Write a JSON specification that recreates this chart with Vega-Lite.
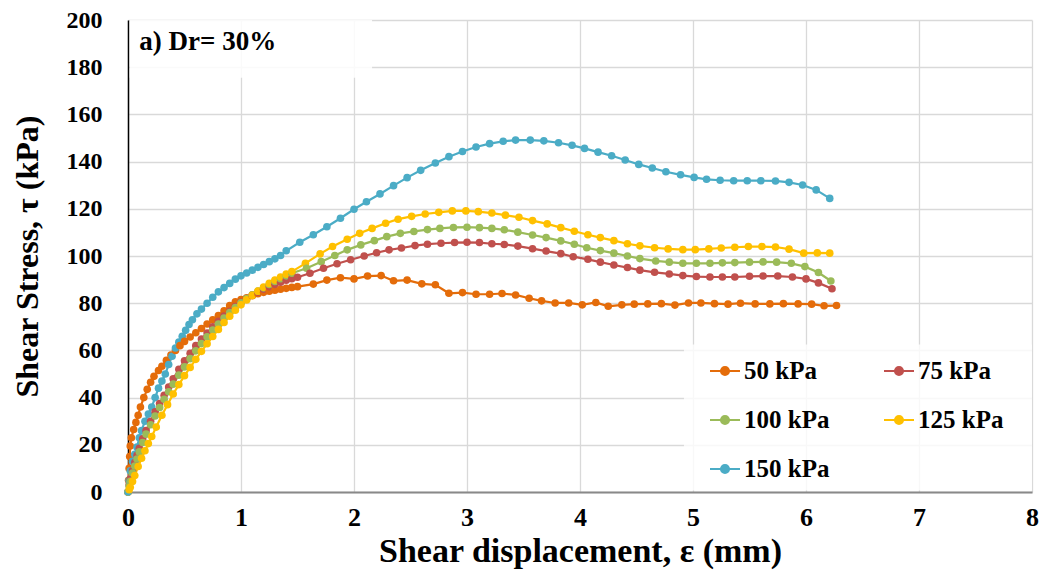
{
"$schema": "https://vega.github.io/schema/vega-lite/v6.json",
"width": 904, "height": 472,
"autosize": {"type": "none"},
"padding": {"left": 128, "top": 20, "right": 19, "bottom": 84},
"background": "white",
"config": {
  "view": {"stroke": null},
  "axis": {"grid": true, "gridColor": "#d9d9d9", "gridWidth": 1.3, "ticks": false, "labelFlush": false, "labelFont": "Liberation Serif", "labelFontWeight": "bold", "labelColor": "#000", "titleFont": "Liberation Serif", "titleFontWeight": "bold", "titleColor": "#000"}
},
"layer": [
  {
    "data": {"values": [{}]},
    "mark": {"type": "rect", "fill": "white", "opacity": 0.85},
    "encoding": {"x": {"datum": 0.015, "type": "quantitative", "scale": {"domain": [0, 8], "nice": false}}, "x2": {"datum": 2.16}, "y": {"datum": 175.5, "type": "quantitative", "scale": {"domain": [0, 200], "nice": false}}, "y2": {"datum": 200}}
  },
  {
    "data": {"values": [{}]},
    "mark": {"type": "rect", "fill": "white", "opacity": 0.8},
    "encoding": {"x": {"datum": 4.92, "type": "quantitative"}, "x2": {"datum": 8}, "y": {"datum": 0.6, "type": "quantitative"}, "y2": {"datum": 62.5}}
  },
  {
    "data": {"values": [
{"p":"50 kPa","x":0,"y":0},{"p":"50 kPa","x":0.005,"y":5},{"p":"50 kPa","x":0.01,"y":10},{"p":"50 kPa","x":0.015,"y":15},{"p":"50 kPa","x":0.02,"y":19.5},{"p":"50 kPa","x":0.03,"y":23},{"p":"50 kPa","x":0.05,"y":26.5},{"p":"50 kPa","x":0.07,"y":29.5},{"p":"50 kPa","x":0.09,"y":32.5},{"p":"50 kPa","x":0.11,"y":36},{"p":"50 kPa","x":0.14,"y":40},{"p":"50 kPa","x":0.17,"y":43.5},{"p":"50 kPa","x":0.2,"y":46.5},{"p":"50 kPa","x":0.23,"y":49},{"p":"50 kPa","x":0.27,"y":51.5},{"p":"50 kPa","x":0.3,"y":53.3},{"p":"50 kPa","x":0.34,"y":55.8},{"p":"50 kPa","x":0.38,"y":58},{"p":"50 kPa","x":0.42,"y":60},{"p":"50 kPa","x":0.46,"y":62},{"p":"50 kPa","x":0.5,"y":63.8},{"p":"50 kPa","x":0.55,"y":65.7},{"p":"50 kPa","x":0.6,"y":67.5},{"p":"50 kPa","x":0.65,"y":69.3},{"p":"50 kPa","x":0.7,"y":71.2},{"p":"50 kPa","x":0.75,"y":73},{"p":"50 kPa","x":0.8,"y":74.8},{"p":"50 kPa","x":0.85,"y":76.8},{"p":"50 kPa","x":0.9,"y":79},{"p":"50 kPa","x":0.95,"y":80.6},{"p":"50 kPa","x":1,"y":81.5},{"p":"50 kPa","x":1.05,"y":82.3},{"p":"50 kPa","x":1.1,"y":83.2},{"p":"50 kPa","x":1.15,"y":84},{"p":"50 kPa","x":1.2,"y":84.6},{"p":"50 kPa","x":1.25,"y":85.1},{"p":"50 kPa","x":1.3,"y":85.5},{"p":"50 kPa","x":1.35,"y":85.9},{"p":"50 kPa","x":1.4,"y":86.3},{"p":"50 kPa","x":1.45,"y":86.7},{"p":"50 kPa","x":1.5,"y":87},
{"p":"50 kPa","x":1.64,"y":88.1},{"p":"50 kPa","x":1.76,"y":89.8},{"p":"50 kPa","x":1.88,"y":90.8},{"p":"50 kPa","x":2,"y":90.3},{"p":"50 kPa","x":2.12,"y":91.5},{"p":"50 kPa","x":2.24,"y":91.7},{"p":"50 kPa","x":2.35,"y":89.5},{"p":"50 kPa","x":2.47,"y":89.8},{"p":"50 kPa","x":2.6,"y":88.2},{"p":"50 kPa","x":2.72,"y":87.8},{"p":"50 kPa","x":2.84,"y":84.2},{"p":"50 kPa","x":2.96,"y":84.5},{"p":"50 kPa","x":3.08,"y":83.8},{"p":"50 kPa","x":3.2,"y":83.8},{"p":"50 kPa","x":3.31,"y":84.1},{"p":"50 kPa","x":3.43,"y":83.5},{"p":"50 kPa","x":3.55,"y":82.1},{"p":"50 kPa","x":3.66,"y":81},{"p":"50 kPa","x":3.78,"y":80.1},{"p":"50 kPa","x":3.9,"y":80.1},{"p":"50 kPa","x":4.02,"y":79.3},{"p":"50 kPa","x":4.14,"y":80.3},{"p":"50 kPa","x":4.25,"y":78.7},{"p":"50 kPa","x":4.37,"y":79.3},{"p":"50 kPa","x":4.48,"y":79.6},{"p":"50 kPa","x":4.6,"y":79.7},{"p":"50 kPa","x":4.72,"y":79.8},{"p":"50 kPa","x":4.84,"y":79.2},{"p":"50 kPa","x":4.96,"y":80.1},{"p":"50 kPa","x":5.07,"y":80.1},{"p":"50 kPa","x":5.19,"y":79.8},{"p":"50 kPa","x":5.31,"y":79.6},{"p":"50 kPa","x":5.42,"y":80},{"p":"50 kPa","x":5.55,"y":79.7},{"p":"50 kPa","x":5.68,"y":79.7},{"p":"50 kPa","x":5.8,"y":79.8},{"p":"50 kPa","x":5.93,"y":79.7},{"p":"50 kPa","x":6.05,"y":79.6},{"p":"50 kPa","x":6.16,"y":78.9},{"p":"50 kPa","x":6.27,"y":79},
{"p":"75 kPa","x":0,"y":0},{"p":"75 kPa","x":0.01,"y":3},{"p":"75 kPa","x":0.02,"y":5.5},{"p":"75 kPa","x":0.04,"y":9},{"p":"75 kPa","x":0.06,"y":12.5},{"p":"75 kPa","x":0.08,"y":15.5},{"p":"75 kPa","x":0.1,"y":18.5},{"p":"75 kPa","x":0.13,"y":22.5},{"p":"75 kPa","x":0.16,"y":26},{"p":"75 kPa","x":0.2,"y":30},{"p":"75 kPa","x":0.24,"y":34},{"p":"75 kPa","x":0.28,"y":37.5},{"p":"75 kPa","x":0.32,"y":41},{"p":"75 kPa","x":0.36,"y":44.5},{"p":"75 kPa","x":0.4,"y":48},{"p":"75 kPa","x":0.45,"y":52},{"p":"75 kPa","x":0.5,"y":55.6},{"p":"75 kPa","x":0.55,"y":58.8},{"p":"75 kPa","x":0.6,"y":62},{"p":"75 kPa","x":0.65,"y":64.8},{"p":"75 kPa","x":0.7,"y":67.4},{"p":"75 kPa","x":0.75,"y":70},{"p":"75 kPa","x":0.8,"y":72.3},{"p":"75 kPa","x":0.85,"y":74.5},{"p":"75 kPa","x":0.9,"y":76.6},{"p":"75 kPa","x":0.95,"y":78.6},{"p":"75 kPa","x":1,"y":80.4},{"p":"75 kPa","x":1.05,"y":82},{"p":"75 kPa","x":1.1,"y":83.4},{"p":"75 kPa","x":1.15,"y":84.7},{"p":"75 kPa","x":1.2,"y":85.9},{"p":"75 kPa","x":1.25,"y":87},{"p":"75 kPa","x":1.3,"y":88},{"p":"75 kPa","x":1.35,"y":88.9},{"p":"75 kPa","x":1.4,"y":89.7},{"p":"75 kPa","x":1.45,"y":90.4},{"p":"75 kPa","x":1.5,"y":91},
{"p":"75 kPa","x":1.61,"y":92.7},{"p":"75 kPa","x":1.73,"y":94.8},{"p":"75 kPa","x":1.85,"y":96.7},{"p":"75 kPa","x":1.97,"y":98.4},{"p":"75 kPa","x":2.09,"y":100},{"p":"75 kPa","x":2.2,"y":101.4},{"p":"75 kPa","x":2.31,"y":102.6},{"p":"75 kPa","x":2.42,"y":103.4},{"p":"75 kPa","x":2.54,"y":104.4},{"p":"75 kPa","x":2.65,"y":105},{"p":"75 kPa","x":2.77,"y":105.4},{"p":"75 kPa","x":2.89,"y":105.7},{"p":"75 kPa","x":3,"y":105.8},{"p":"75 kPa","x":3.11,"y":105.7},{"p":"75 kPa","x":3.22,"y":105.2},{"p":"75 kPa","x":3.33,"y":104.9},{"p":"75 kPa","x":3.45,"y":104.2},{"p":"75 kPa","x":3.58,"y":103.1},{"p":"75 kPa","x":3.7,"y":102.1},{"p":"75 kPa","x":3.83,"y":101},{"p":"75 kPa","x":3.94,"y":99.7},{"p":"75 kPa","x":4.07,"y":98.6},{"p":"75 kPa","x":4.18,"y":97.4},{"p":"75 kPa","x":4.3,"y":96.2},{"p":"75 kPa","x":4.42,"y":95.1},{"p":"75 kPa","x":4.53,"y":94},{"p":"75 kPa","x":4.66,"y":93.1},{"p":"75 kPa","x":4.79,"y":92.4},{"p":"75 kPa","x":4.91,"y":91.7},{"p":"75 kPa","x":5.03,"y":91.3},{"p":"75 kPa","x":5.15,"y":91.1},{"p":"75 kPa","x":5.26,"y":91.1},{"p":"75 kPa","x":5.37,"y":91.1},{"p":"75 kPa","x":5.5,"y":91.4},{"p":"75 kPa","x":5.62,"y":91.5},{"p":"75 kPa","x":5.75,"y":91.5},{"p":"75 kPa","x":5.88,"y":91.1},{"p":"75 kPa","x":6,"y":90.3},{"p":"75 kPa","x":6.11,"y":88.6},{"p":"75 kPa","x":6.23,"y":86.1},
{"p":"100 kPa","x":0,"y":0},{"p":"100 kPa","x":0.01,"y":2.5},{"p":"100 kPa","x":0.02,"y":4.5},{"p":"100 kPa","x":0.04,"y":8},{"p":"100 kPa","x":0.06,"y":11},{"p":"100 kPa","x":0.08,"y":14},{"p":"100 kPa","x":0.1,"y":17},{"p":"100 kPa","x":0.13,"y":21},{"p":"100 kPa","x":0.16,"y":24.5},{"p":"100 kPa","x":0.2,"y":28.5},{"p":"100 kPa","x":0.24,"y":32.2},{"p":"100 kPa","x":0.28,"y":35.8},{"p":"100 kPa","x":0.32,"y":39.3},{"p":"100 kPa","x":0.36,"y":42.5},{"p":"100 kPa","x":0.4,"y":45.7},{"p":"100 kPa","x":0.45,"y":49.5},{"p":"100 kPa","x":0.5,"y":53},{"p":"100 kPa","x":0.55,"y":56.5},{"p":"100 kPa","x":0.6,"y":59.8},{"p":"100 kPa","x":0.65,"y":62.9},{"p":"100 kPa","x":0.7,"y":65.8},{"p":"100 kPa","x":0.75,"y":68.6},{"p":"100 kPa","x":0.8,"y":71.2},{"p":"100 kPa","x":0.85,"y":73.7},{"p":"100 kPa","x":0.9,"y":76},{"p":"100 kPa","x":0.95,"y":78.2},{"p":"100 kPa","x":1,"y":80.2},{"p":"100 kPa","x":1.05,"y":82},{"p":"100 kPa","x":1.1,"y":83.6},{"p":"100 kPa","x":1.15,"y":85.1},{"p":"100 kPa","x":1.2,"y":86.5},{"p":"100 kPa","x":1.25,"y":87.9},{"p":"100 kPa","x":1.3,"y":89.2},{"p":"100 kPa","x":1.35,"y":90.4},{"p":"100 kPa","x":1.4,"y":91.6},{"p":"100 kPa","x":1.45,"y":92.7},
{"p":"100 kPa","x":1.58,"y":94.8},{"p":"100 kPa","x":1.71,"y":97.6},{"p":"100 kPa","x":1.83,"y":100.2},{"p":"100 kPa","x":1.94,"y":102.6},{"p":"100 kPa","x":2.06,"y":104.7},{"p":"100 kPa","x":2.18,"y":106.5},{"p":"100 kPa","x":2.29,"y":108.2},{"p":"100 kPa","x":2.41,"y":109.6},{"p":"100 kPa","x":2.53,"y":110.4},{"p":"100 kPa","x":2.65,"y":111.2},{"p":"100 kPa","x":2.76,"y":111.7},{"p":"100 kPa","x":2.88,"y":112.1},{"p":"100 kPa","x":3,"y":112.2},{"p":"100 kPa","x":3.11,"y":112},{"p":"100 kPa","x":3.22,"y":111.7},{"p":"100 kPa","x":3.33,"y":111.1},{"p":"100 kPa","x":3.45,"y":110.1},{"p":"100 kPa","x":3.58,"y":108.9},{"p":"100 kPa","x":3.7,"y":107.8},{"p":"100 kPa","x":3.83,"y":106.4},{"p":"100 kPa","x":3.95,"y":105},{"p":"100 kPa","x":4.06,"y":103.5},{"p":"100 kPa","x":4.18,"y":102.3},{"p":"100 kPa","x":4.3,"y":101.2},{"p":"100 kPa","x":4.42,"y":100},{"p":"100 kPa","x":4.53,"y":98.9},{"p":"100 kPa","x":4.67,"y":97.9},{"p":"100 kPa","x":4.79,"y":97.4},{"p":"100 kPa","x":4.91,"y":96.9},{"p":"100 kPa","x":5.03,"y":96.9},{"p":"100 kPa","x":5.15,"y":96.9},{"p":"100 kPa","x":5.26,"y":97.1},{"p":"100 kPa","x":5.37,"y":97.2},{"p":"100 kPa","x":5.5,"y":97.4},{"p":"100 kPa","x":5.62,"y":97.5},{"p":"100 kPa","x":5.74,"y":97.4},{"p":"100 kPa","x":5.87,"y":96.9},{"p":"100 kPa","x":5.99,"y":95.5},{"p":"100 kPa","x":6.11,"y":93},{"p":"100 kPa","x":6.22,"y":89.4},
{"p":"125 kPa","x":0,"y":0},{"p":"125 kPa","x":0.01,"y":1},{"p":"125 kPa","x":0.02,"y":2},{"p":"125 kPa","x":0.04,"y":4.5},{"p":"125 kPa","x":0.06,"y":7},{"p":"125 kPa","x":0.09,"y":10.8},{"p":"125 kPa","x":0.12,"y":14.3},{"p":"125 kPa","x":0.15,"y":17.5},{"p":"125 kPa","x":0.18,"y":20.5},{"p":"125 kPa","x":0.21,"y":23.5},{"p":"125 kPa","x":0.25,"y":27.5},{"p":"125 kPa","x":0.3,"y":32.5},{"p":"125 kPa","x":0.35,"y":37},{"p":"125 kPa","x":0.4,"y":41.5},{"p":"125 kPa","x":0.45,"y":45.5},{"p":"125 kPa","x":0.5,"y":49.3},{"p":"125 kPa","x":0.55,"y":52.8},{"p":"125 kPa","x":0.6,"y":56.2},{"p":"125 kPa","x":0.65,"y":59.6},{"p":"125 kPa","x":0.7,"y":62.8},{"p":"125 kPa","x":0.75,"y":65.9},{"p":"125 kPa","x":0.8,"y":68.9},{"p":"125 kPa","x":0.85,"y":71.8},{"p":"125 kPa","x":0.9,"y":74.5},{"p":"125 kPa","x":0.95,"y":77},{"p":"125 kPa","x":1,"y":79.3},{"p":"125 kPa","x":1.05,"y":81.4},{"p":"125 kPa","x":1.1,"y":83.3},{"p":"125 kPa","x":1.15,"y":85.1},{"p":"125 kPa","x":1.2,"y":86.8},{"p":"125 kPa","x":1.25,"y":88.4},{"p":"125 kPa","x":1.3,"y":89.8},{"p":"125 kPa","x":1.35,"y":91.1},{"p":"125 kPa","x":1.4,"y":92.3},{"p":"125 kPa","x":1.45,"y":93.4},
{"p":"125 kPa","x":1.57,"y":96.9},{"p":"125 kPa","x":1.7,"y":100.9},{"p":"125 kPa","x":1.81,"y":104},{"p":"125 kPa","x":1.94,"y":107.1},{"p":"125 kPa","x":2.05,"y":109.6},{"p":"125 kPa","x":2.16,"y":111.7},{"p":"125 kPa","x":2.28,"y":113.9},{"p":"125 kPa","x":2.39,"y":115.6},{"p":"125 kPa","x":2.51,"y":116.8},{"p":"125 kPa","x":2.63,"y":117.8},{"p":"125 kPa","x":2.75,"y":118.5},{"p":"125 kPa","x":2.87,"y":119.1},{"p":"125 kPa","x":2.99,"y":119.1},{"p":"125 kPa","x":3.1,"y":118.8},{"p":"125 kPa","x":3.22,"y":118.2},{"p":"125 kPa","x":3.34,"y":117.3},{"p":"125 kPa","x":3.46,"y":116.4},{"p":"125 kPa","x":3.58,"y":115},{"p":"125 kPa","x":3.71,"y":113.6},{"p":"125 kPa","x":3.83,"y":112},{"p":"125 kPa","x":3.95,"y":110.5},{"p":"125 kPa","x":4.07,"y":109},{"p":"125 kPa","x":4.18,"y":107.8},{"p":"125 kPa","x":4.3,"y":106.5},{"p":"125 kPa","x":4.42,"y":105.2},{"p":"125 kPa","x":4.53,"y":104.3},{"p":"125 kPa","x":4.66,"y":103.5},{"p":"125 kPa","x":4.78,"y":103},{"p":"125 kPa","x":4.91,"y":102.7},{"p":"125 kPa","x":5.02,"y":102.7},{"p":"125 kPa","x":5.14,"y":103},{"p":"125 kPa","x":5.25,"y":103.4},{"p":"125 kPa","x":5.37,"y":103.7},{"p":"125 kPa","x":5.49,"y":104},{"p":"125 kPa","x":5.61,"y":104},{"p":"125 kPa","x":5.73,"y":103.8},{"p":"125 kPa","x":5.85,"y":102.9},{"p":"125 kPa","x":5.98,"y":101.2},{"p":"125 kPa","x":6.1,"y":101.3},{"p":"125 kPa","x":6.21,"y":101.2},
{"p":"150 kPa","x":0,"y":0},{"p":"150 kPa","x":0.01,"y":5},{"p":"150 kPa","x":0.02,"y":9},{"p":"150 kPa","x":0.04,"y":13},{"p":"150 kPa","x":0.06,"y":16},{"p":"150 kPa","x":0.08,"y":19},{"p":"150 kPa","x":0.1,"y":23},{"p":"150 kPa","x":0.12,"y":26},{"p":"150 kPa","x":0.15,"y":30},{"p":"150 kPa","x":0.18,"y":33},{"p":"150 kPa","x":0.21,"y":36},{"p":"150 kPa","x":0.24,"y":40},{"p":"150 kPa","x":0.27,"y":44},{"p":"150 kPa","x":0.3,"y":47},{"p":"150 kPa","x":0.33,"y":50},{"p":"150 kPa","x":0.36,"y":54},{"p":"150 kPa","x":0.39,"y":57.5},{"p":"150 kPa","x":0.42,"y":61},{"p":"150 kPa","x":0.45,"y":63.5},{"p":"150 kPa","x":0.48,"y":66},{"p":"150 kPa","x":0.51,"y":68.5},{"p":"150 kPa","x":0.54,"y":71},{"p":"150 kPa","x":0.57,"y":73},{"p":"150 kPa","x":0.61,"y":75.5},{"p":"150 kPa","x":0.65,"y":77.5},{"p":"150 kPa","x":0.7,"y":80},{"p":"150 kPa","x":0.75,"y":82.5},{"p":"150 kPa","x":0.8,"y":84.8},{"p":"150 kPa","x":0.85,"y":86.6},{"p":"150 kPa","x":0.9,"y":88.4},{"p":"150 kPa","x":0.95,"y":90.2},{"p":"150 kPa","x":1,"y":91.6},{"p":"150 kPa","x":1.05,"y":92.8},{"p":"150 kPa","x":1.1,"y":94},{"p":"150 kPa","x":1.15,"y":95.2},{"p":"150 kPa","x":1.2,"y":96.4},{"p":"150 kPa","x":1.25,"y":97.6},{"p":"150 kPa","x":1.3,"y":98.8},{"p":"150 kPa","x":1.35,"y":100.2},{"p":"150 kPa","x":1.4,"y":102.2},
{"p":"150 kPa","x":1.52,"y":105.8},{"p":"150 kPa","x":1.64,"y":109},{"p":"150 kPa","x":1.76,"y":112.4},{"p":"150 kPa","x":1.88,"y":116},{"p":"150 kPa","x":2,"y":119.8},{"p":"150 kPa","x":2.11,"y":123},{"p":"150 kPa","x":2.23,"y":126.3},{"p":"150 kPa","x":2.35,"y":129.8},{"p":"150 kPa","x":2.47,"y":133.2},{"p":"150 kPa","x":2.59,"y":136.3},{"p":"150 kPa","x":2.72,"y":139.4},{"p":"150 kPa","x":2.84,"y":142.1},{"p":"150 kPa","x":2.96,"y":144.3},{"p":"150 kPa","x":3.08,"y":146.2},{"p":"150 kPa","x":3.2,"y":147.6},{"p":"150 kPa","x":3.32,"y":148.6},{"p":"150 kPa","x":3.43,"y":149.1},{"p":"150 kPa","x":3.56,"y":149.1},{"p":"150 kPa","x":3.68,"y":148.8},{"p":"150 kPa","x":3.81,"y":148},{"p":"150 kPa","x":3.93,"y":146.9},{"p":"150 kPa","x":4.04,"y":145.6},{"p":"150 kPa","x":4.16,"y":144},{"p":"150 kPa","x":4.28,"y":142.5},{"p":"150 kPa","x":4.4,"y":140.7},{"p":"150 kPa","x":4.52,"y":138.8},{"p":"150 kPa","x":4.64,"y":137.3},{"p":"150 kPa","x":4.76,"y":135.7},{"p":"150 kPa","x":4.89,"y":134.4},{"p":"150 kPa","x":5.01,"y":133.3},{"p":"150 kPa","x":5.12,"y":132.5},{"p":"150 kPa","x":5.24,"y":132.1},{"p":"150 kPa","x":5.36,"y":131.9},{"p":"150 kPa","x":5.48,"y":131.9},{"p":"150 kPa","x":5.6,"y":131.9},{"p":"150 kPa","x":5.73,"y":131.8},{"p":"150 kPa","x":5.85,"y":131.2},{"p":"150 kPa","x":5.97,"y":130.1},{"p":"150 kPa","x":6.09,"y":128},{"p":"150 kPa","x":6.21,"y":124.4}
    ]},
    "mark": {"type": "line", "strokeWidth": 2.2, "point": {"filled": true, "size": 58, "opacity": 1}},
    "encoding": {
      "x": {"field": "x", "type": "quantitative", "scale": {"domain": [0, 8], "nice": false},
        "axis": {"values": [0,1,2,3,4,5,6,7,8], "format": "d", "title": "Shear displacement, ε (mm)", "labelFontSize": 26, "labelPadding": 12, "domainColor": "#898989", "domainWidth": 2, "titleFontSize": 34, "titlePadding": 4}},
      "y": {"field": "y", "type": "quantitative", "scale": {"domain": [0, 200], "nice": false},
        "axis": {"values": [0,20,40,60,80,100,120,140,160,180,200], "format": "d", "title": "Shear Stress, τ (kPa)", "labelFontSize": 24, "labelPadding": 26, "domainColor": "#000000", "domainWidth": 1.5, "titleFontSize": 32, "titlePadding": 22}},
      "color": {"field": "p", "type": "nominal",
        "scale": {"domain": ["50 kPa","75 kPa","100 kPa","125 kPa","150 kPa"], "range": ["#E46C0A","#C0504D","#9BBB59","#FFC000","#4BACC6"]},
        "legend": {"orient": "none", "legendX": 581, "legendY": 335, "direction": "horizontal", "columns": 2, "title": null, "labelFont": "Liberation Serif", "labelFontWeight": "bold", "labelFontSize": 25, "labelColor": "#000", "labelOffset": 3, "symbolType": "M-1,0H1M-0.27,0A0.27,0.27 0 1,1 0.27,0A0.27,0.27 0 1,1 -0.27,0Z", "symbolSize": 900, "symbolStrokeWidth": 2, "columnPadding": 50, "rowPadding": 20,
          "encode": {"symbols": {"update": {"fill": {"scale": "color", "field": "value"}, "stroke": {"scale": "color", "field": "value"}, "opacity": {"value": 1}}}}}},
      "order": {"field": "x", "type": "quantitative"}
    }
  },
  {
    "data": {"values": [{}]},
    "mark": {"type": "text", "text": "a) Dr= 30%", "font": "Liberation Serif", "fontWeight": "bold", "fontSize": 27, "align": "left", "baseline": "alphabetic", "color": "#000"},
    "encoding": {"x": {"datum": 0.1, "type": "quantitative"}, "y": {"datum": 187.5, "type": "quantitative"}}
  }
]
}
